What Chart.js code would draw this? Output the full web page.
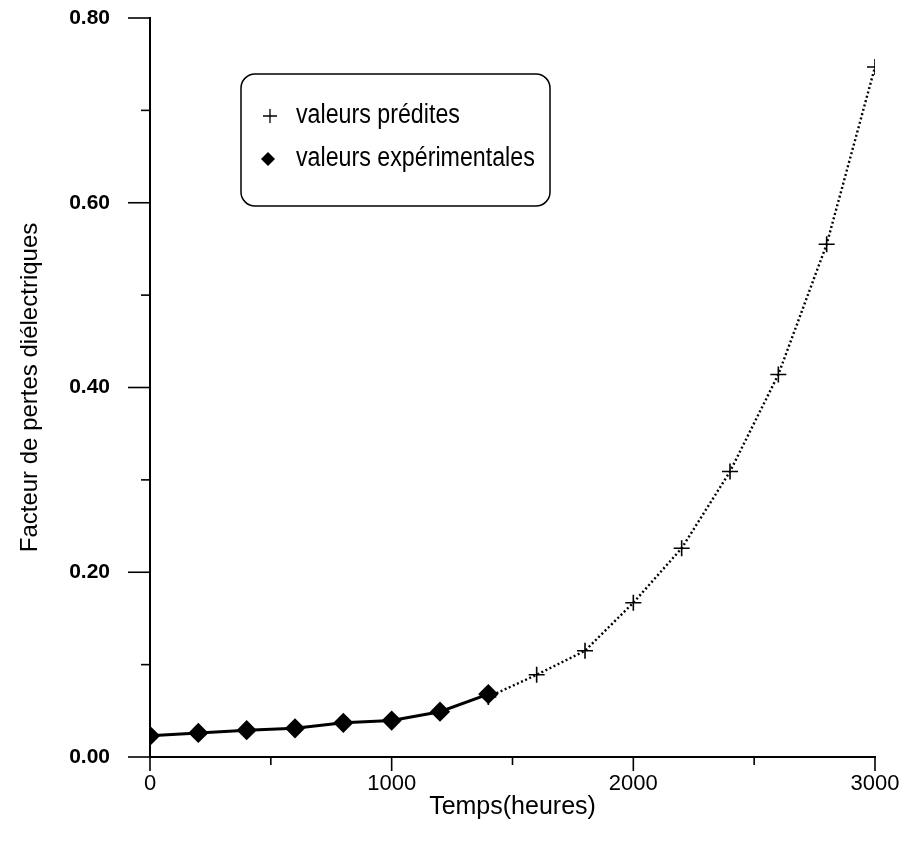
<!DOCTYPE html>
<html>
<head>
<meta charset="utf-8">
<script src="https://cdn.jsdelivr.net/npm/chart.js@4.4.0/dist/chart.umd.min.js"></script>
<style>
  html, body { margin: 0; padding: 0; background: #fff; }
  #wrap { width: 902px; height: 848px; }
</style>
</head>
<body>
<div id="wrap"><canvas id="chart" width="902" height="848"></canvas></div>
<script>
// data
const predTimes  = [1400, 1600, 1800, 2000, 2200, 2400, 2600, 2800, 3000];
const predValues = [0.065, 0.089, 0.115, 0.167, 0.226, 0.309, 0.414, 0.555, 0.747];
const expTimes   = [0, 200, 400, 600, 800, 1000, 1200, 1400];
const expValues  = [0.023, 0.026, 0.029, 0.031, 0.037, 0.0395, 0.049, 0.068];

const xMajor = [0, 1000, 2000, 3000];
const xMinor = [500, 1500, 2500];
const yMajor = [0, 0.2, 0.4, 0.6, 0.8];
const yMinor = [0.1, 0.3, 0.5, 0.7];
const legendLabels = ['valeurs prédites', 'valeurs expérimentales'];

const SANS = '"Liberation Sans", Arial, Helvetica, sans-serif';

/* --- tick marks drawn outside the axes --- */
const tickMarks = {
    id: 'tickMarks',
    afterDraw(chart) {
        const { ctx, scales: { x, y }, chartArea } = chart;
        ctx.save();
        ctx.strokeStyle = '#000';
        ctx.lineWidth = 1.6;
        const left = chartArea.left, bottom = chartArea.bottom;
        yMajor.forEach(v => { const p = y.getPixelForValue(v); ctx.beginPath(); ctx.moveTo(left - 22, p); ctx.lineTo(left, p); ctx.stroke(); });
        yMinor.forEach(v => { const p = y.getPixelForValue(v); ctx.beginPath(); ctx.moveTo(left - 9, p); ctx.lineTo(left, p); ctx.stroke(); });
        xMajor.forEach(v => { const p = x.getPixelForValue(v); ctx.beginPath(); ctx.moveTo(p, bottom); ctx.lineTo(p, bottom + 14); ctx.stroke(); });
        xMinor.forEach(v => { const p = x.getPixelForValue(v); ctx.beginPath(); ctx.moveTo(p, bottom); ctx.lineTo(p, bottom + 8); ctx.stroke(); });
        ctx.restore();
    }
};

/* --- rounded legend box inside the plot --- */
const boxLegend = {
    id: 'boxLegend',
    afterDraw(chart) {
        const ctx = chart.ctx;
        const bx = 241, by = 74, bw = 309, bh = 132, r = 14;
        ctx.save();
        ctx.strokeStyle = '#000';
        ctx.lineWidth = 1.5;
        ctx.beginPath();
        ctx.roundRect(bx, by, bw, bh, r);
        ctx.stroke();

        ctx.fillStyle = '#000';
        const rows = [116, 159];
        // cross
        ctx.lineWidth = 1.3;
        ctx.beginPath();
        ctx.moveTo(263, rows[0]); ctx.lineTo(277, rows[0]);
        ctx.moveTo(270, rows[0] - 7); ctx.lineTo(270, rows[0] + 7);
        ctx.stroke();
        // diamond
        ctx.beginPath();
        ctx.moveTo(268, rows[1] - 7); ctx.lineTo(275, rows[1]); ctx.lineTo(268, rows[1] + 7); ctx.lineTo(261, rows[1]);
        ctx.closePath();
        ctx.fill();
        // condensed text
        ctx.font = '27px ' + SANS;
        ctx.textBaseline = 'middle';
        ctx.translate(296, 0);
        ctx.scale(0.86, 1);
        ctx.fillText(legendLabels[0], 0, rows[0]);
        ctx.fillText(legendLabels[1], 0, rows[1]);
        ctx.restore();
    }
};

function initChart() {
    const ctx = document.getElementById('chart').getContext('2d');
    new Chart(ctx, {
        type: 'line',
        data: {
            datasets: [
                {
                    label: legendLabels[0],
                    data: predTimes.map((t, i) => ({ x: t, y: predValues[i] })),
                    borderColor: '#000',
                    borderWidth: 2.4,
                    borderDash: [2, 2.5],
                    pointStyle: 'cross',
                    pointRadius: 8,
                    pointBorderWidth: 1.6,
                    pointBorderColor: '#000',
                    fill: false,
                    tension: 0,
                    order: 2
                },
                {
                    label: legendLabels[1],
                    data: expTimes.map((t, i) => ({ x: t, y: expValues[i] })),
                    borderColor: '#000',
                    borderWidth: 3,
                    pointStyle: 'rectRot',
                    pointRadius: 8,
                    pointBackgroundColor: '#000',
                    pointBorderColor: '#000',
                    fill: false,
                    tension: 0,
                    order: 1
                }
            ]
        },
        options: {
            responsive: false,
            animation: false,
            devicePixelRatio: 1,
            layout: { padding: { left: 0, right: 27, top: 18, bottom: 26 } },
            plugins: { legend: { display: false }, tooltip: { enabled: false } },
            scales: {
                x: {
                    type: 'linear',
                    min: 0, max: 3000,
                    afterFit(scale) { scale.height = 65; scale.paddingLeft = 0; scale.paddingRight = 0; },
                    afterBuildTicks(scale) { scale.ticks = xMajor.map(v => ({ value: v })); },
                    ticks: { color: '#000', padding: 14, font: { family: SANS, size: 22 }, callback: v => String(v), maxRotation: 0 },
                    grid: { display: false, drawTicks: false },
                    border: { display: true, color: '#000', width: 2 },
                    title: { display: true, text: 'Temps(heures)', color: '#000', font: { family: SANS, size: 25 }, padding: { top: 0, bottom: 0 } }
                },
                y: {
                    min: 0, max: 0.8,
                    afterFit(scale) { scale.width = 150; scale.paddingTop = 0; scale.paddingBottom = 0; },
                    afterBuildTicks(scale) { scale.ticks = yMajor.map(v => ({ value: v })); },
                    ticks: { color: '#000', padding: 40, font: { family: SANS, size: 21, weight: 'bold' }, callback: v => v.toFixed(2) },
                    grid: { display: false, drawTicks: false },
                    border: { display: true, color: '#000', width: 2 },
                    title: { display: true, text: 'Facteur de pertes diélectriques', color: '#000', font: { family: SANS, size: 24 }, padding: { top: 16, bottom: 0 } }
                }
            }
        },
        plugins: [tickMarks, boxLegend]
    });
}

document.addEventListener('DOMContentLoaded', initChart);
</script>
</body>
</html>
